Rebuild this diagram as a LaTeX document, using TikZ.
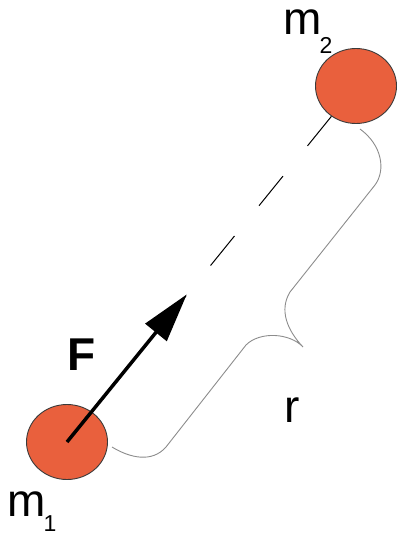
\documentclass[tikz,border=0pt]{standalone}
\usepackage{fontspec}
\setmainfont{Liberation Sans}
\usetikzlibrary{arrows.meta,shapes.geometric}
\definecolor{massfill}{HTML}{E9603D}
\definecolor{massedge}{HTML}{3A3A3A}
\definecolor{bracegray}{HTML}{8C8C8C}
\begin{document}
\begin{tikzpicture}[x=1pt,y=-1pt,
  mass/.style={ellipse,minimum width=81pt,minimum height=75pt,inner sep=0pt,
    fill=massfill,draw=massedge,line width=0.9pt},
  lbl/.style={inner sep=0pt,anchor=base west,font=\fontsize{46}{46}\selectfont},
  bracepath/.style={draw=bracegray,line width=0.9pt},
  forcearrow/.style={line width=3.5pt,-{Triangle[length=49pt,width=27pt]}},
  sepline/.style={line width=1pt,dash pattern=on 38pt off 39pt}]
\useasboundingbox (0,0) rectangle (397,535);
% masses
\node[mass] (m1) at (67,442) {};
\node[mass] (m2) at (356,86) {};
% dashed connecting line
\coordinate (dend) at (181,302);
\draw[sepline] (m2) -- (dend);
% brace
\coordinate (bs) at (112,447);
\coordinate (bt) at (303,347);
\coordinate (be) at (360,129);
\draw[bracepath] (bs) .. controls (130,458) and (152,463) .. (166,447)
  -- (246,345) .. controls (260,331) and (290,333) .. (bt)
  .. controls (287,330) and (279,310) .. (290,292)
  -- (375,185) .. controls (386,170) and (382,145) .. (be);
% force arrow
\coordinate (ftip) at (186.8,294.4);
\draw[forcearrow] (m1.center) -- (ftip);
% labels
\node[lbl] (lm1) at (7,516) {m\kern-2pt\raisebox{-15pt}{\fontsize{23}{23}\selectfont 1}};
\node[lbl] (lm2) at (283,35) {m\kern-2pt\raisebox{-19pt}{\fontsize{23}{23}\selectfont 2}};
\node[lbl,font=\fontsize{46}{46}\selectfont\bfseries] (lF) at (67,370) {F};
\node[lbl] (lr) at (284,422) {r};
\end{tikzpicture}
\end{document}
